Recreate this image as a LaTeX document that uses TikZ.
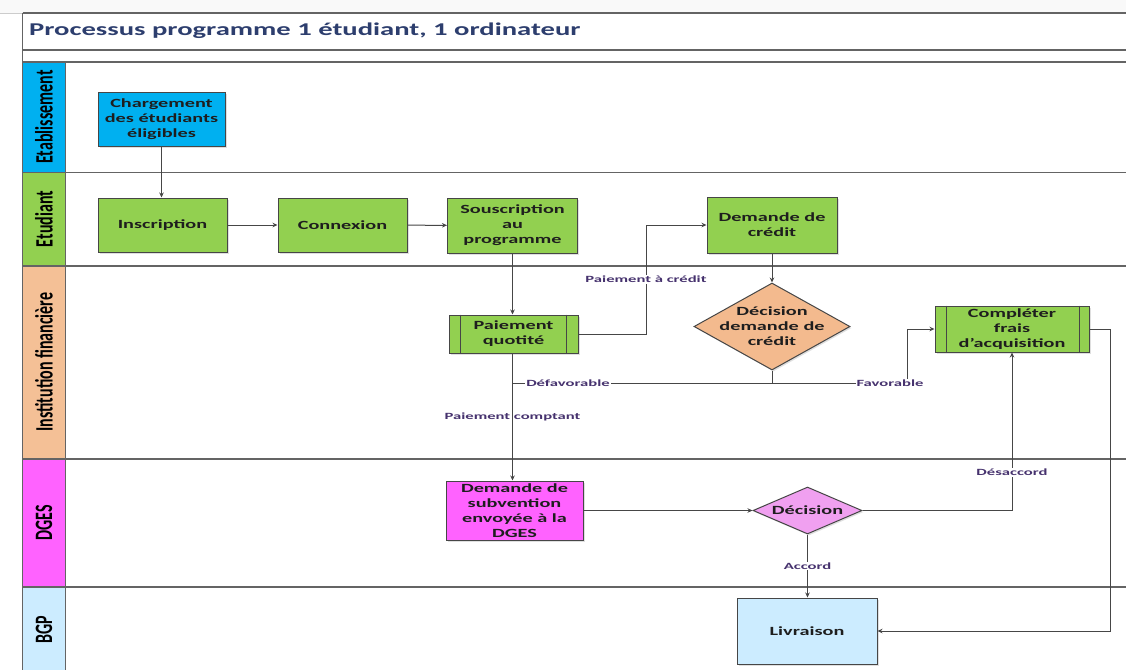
\documentclass[tikz,border=0pt]{standalone}
\usepackage{fontspec}
\setmainfont{Carlito}
\newfontfamily\titlefont[FakeStretch=1.59]{Carlito}
\newfontfamily\boxfont[FakeStretch=1.62]{Carlito}
\newfontfamily\labfont[FakeStretch=1.75]{Carlito}
\newfontfamily\lanefont[FakeStretch=0.64]{Carlito}
\usetikzlibrary{shapes.geometric,arrows.meta,shadows}
\definecolor{edgec}{RGB}{70,70,70}
\definecolor{framec}{RGB}{100,100,100}
\definecolor{grn}{RGB}{146,208,80}
\definecolor{blu}{RGB}{0,176,240}
\definecolor{peach}{RGB}{244,192,150}
\definecolor{peachd}{RGB}{243,186,142}
\definecolor{mag}{RGB}{255,98,255}
\definecolor{magd}{RGB}{240,160,240}
\definecolor{lblu}{RGB}{204,236,255}
\definecolor{titlec}{RGB}{45,62,110}
\definecolor{labc}{RGB}{70,50,110}
\definecolor{txtc}{RGB}{30,30,30}
\begin{document}
\begin{tikzpicture}[x=1pt,y=-1pt,
  frm/.style={draw=framec,line width=1.3pt},
  procbox/.style={draw=edgec,line width=1pt,inner sep=0pt,align=center,
    font=\boxfont\bfseries\fontsize{12.5}{15}\selectfont,text=txtc,
    drop shadow={opacity=0.25,shadow xshift=1.5pt,shadow yshift=-1.5pt}},
  diabox/.style={diamond,draw=edgec,line width=1pt,inner sep=0pt,
    drop shadow={opacity=0.25,shadow xshift=1.5pt,shadow yshift=-1.5pt}},
  diatext/.style={align=center,inner sep=0pt,
    font=\boxfont\bfseries\fontsize{12.5}{15}\selectfont,text=txtc},
  lanetxt/.style={rotate=90,inner sep=0pt,text=black,
    font=\lanefont\bfseries\fontsize{25}{28}\selectfont},
  lab/.style={font=\labfont\bfseries\fontsize{9.5}{11}\selectfont,text=labc,
    fill=white,inner sep=1pt},
  labnf/.style={font=\labfont\bfseries\fontsize{9.5}{11}\selectfont,text=labc,
    inner sep=1pt},
  ln/.style={draw=edgec,line width=1pt},
  conn/.style={draw=edgec,line width=1pt,-{Stealth[length=5pt,width=4.5pt]}}
]
\useasboundingbox (0,0) rectangle (1126,670);
\fill[gray!5] (0,0) rectangle (1126,13);
\fill[white] (0,13) rectangle (1126,670);
% lane colour column
\fill[blu]   (22.5,62) rectangle (65.5,172.5);
\fill[grn]   (22.5,172.5) rectangle (65.5,266);
\fill[peach] (22.5,266) rectangle (65.5,459);
\fill[mag]   (22.5,459) rectangle (65.5,587);
\fill[lblu]  (22.5,587) rectangle (65.5,670);
% frame
\draw[draw=gray!40,line width=1pt] (0,13) -- (22.5,13);
\draw[frm] (22.5,13) -- (1126,13);
\draw[frm] (22.5,50) -- (1126,50);
\draw[frm] (22.5,62) -- (1126,62);
\draw[frm] (22.5,172.5) -- (1126,172.5);
\draw[frm] (22.5,266) -- (1126,266);
\draw[frm] (22.5,459) -- (1126,459);
\draw[frm] (22.5,587) -- (1126,587);
\draw[frm] (22.5,13) -- (22.5,670);
\draw[frm] (65.5,62) -- (65.5,670);
% title
\node[anchor=west,inner sep=0pt,text=titlec,
  font=\titlefont\bfseries\fontsize{18}{20}\selectfont] (title) at (29,31)
  {Processus programme 1 étudiant, 1 ordinateur};
% lane labels
\node[lanetxt] (lEta) at (44,117) {Etablissement};
\node[lanetxt] (lEtu) at (44,219) {Etudiant};
\node[lanetxt] (lIns) at (44,362) {Institution financière};
\node[lanetxt] (lDge) at (44,523) {DGES};
\node[lanetxt] (lBgp) at (44,630) {BGP};
% nodes
\node[procbox,fill=blu,minimum width=127,minimum height=54] (charg) at (161.5,119)
  {Chargement\\des étudiants\\éligibles};
\node[procbox,fill=grn,minimum width=129,minimum height=54] (insc) at (162.5,225)
  {Inscription};
\node[procbox,fill=grn,minimum width=129,minimum height=54] (conx) at (342.5,225)
  {Connexion};
\node[procbox,fill=grn,minimum width=130,minimum height=55] (sous) at (512.5,225.5)
  {Souscription\\au\\programme};
\node[procbox,fill=grn,minimum width=130,minimum height=56] (dcred) at (772,225)
  {Demande de\\crédit};
\node[procbox,fill=grn,minimum width=129,minimum height=38] (pq) at (513.5,334)
  {Paiement\\quotité};
\draw[ln] ([xshift=12pt]pq.north west) -- ([xshift=12pt]pq.south west);
\draw[ln] ([xshift=-12pt]pq.north east) -- ([xshift=-12pt]pq.south east);
\node[diabox,fill=peachd,minimum width=156,minimum height=87] (ddc) at (772,326.5) {};
\node[diatext] (ddct) at (ddc.center) {Décision\\demande de\\crédit};
\node[procbox,fill=grn,minimum width=154,minimum height=46] (cfa) at (1012,329)
  {Compléter\\frais\\d’acquisition};
\draw[ln] ([xshift=12pt]cfa.north west) -- ([xshift=12pt]cfa.south west);
\draw[ln] ([xshift=-10pt]cfa.north east) -- ([xshift=-10pt]cfa.south east);
\node[procbox,fill=mag,minimum width=137,minimum height=59] (dsub) at (514.5,510.5)
  {Demande de\\subvention\\envoyée à la\\DGES};
\node[diabox,fill=magd,minimum width=109,minimum height=47] (dec) at (807.5,510.5) {};
\node[diatext] (dect) at (dec.center) {Décision};
\node[procbox,fill=lblu,minimum width=140,minimum height=66] (liv) at (807,631)
  {Livraison};
% connectors
\draw[conn] (charg.south) -- (charg.south |- insc.north);
\draw[conn] (insc) -- (conx);
\draw[conn] (conx) -- (sous);
\draw[conn] (sous.south) -- (sous.south |- pq.north);
\draw[conn] (pq.east) -- ++(67.5,0) |- node[lab,pos=0.25]{Paiement à crédit} (dcred.west);
\draw[conn] (dcred.south) -- (ddc.north);
\coordinate (jd) at (772,383);
\coordinate (jf) at (907,383);
\draw[ln] (ddc.south) -- (jd);
\draw[ln] (jd) -- (sous.south |- jd);
\node[lab] (ldef) at (568,383) {Défavorable};
\draw[conn] (jd) -- (jf) |- (cfa.west);
\node[lab] (lfav) at (890,383) {Favorable};
\draw[conn] (sous.south |- pq.south) -- node[labnf,pos=0.5]{Paiement comptant} (sous.south |- dsub.north);
\draw[conn] (dsub.east) -- (dec.west);
\draw[conn] (dec.east) -| node[lab,pos=0.62]{Désaccord} (cfa.south);
\draw[conn] (dec.south) -- node[lab,pos=0.5]{Accord} (dec.south |- liv.north);
\draw[conn] (cfa.east) -- ++(21,0) |- (liv.east);
\end{tikzpicture}
\end{document}
